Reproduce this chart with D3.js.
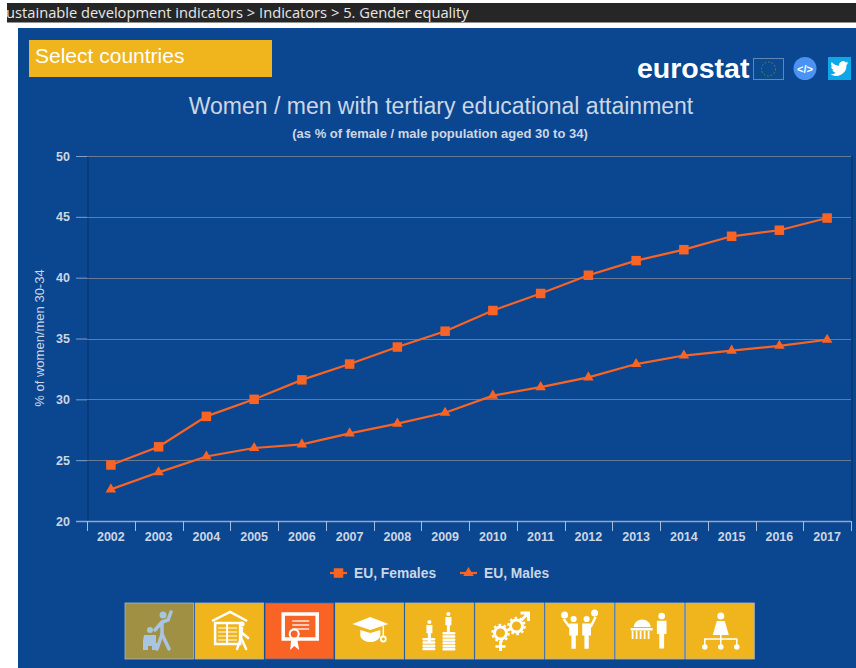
<!DOCTYPE html>
<html>
<head>
<meta charset="utf-8">
<script src="https://d3js.org/d3.v7.min.js"></script>
<style>
  html, body { margin: 0; padding: 0; background: #fff; }
  svg { display: block; }
  text { font-family: "Liberation Sans", Arial, sans-serif; }
</style>
</head>
<body>
<div id="area"></div>
<script>
var years = ["2002","2003","2004","2005","2006","2007","2008","2009","2010","2011","2012","2013","2014","2015","2016","2017"];
var females = [24.6,26.1,28.6,30.0,31.6,32.9,34.3,35.6,37.3,38.7,40.2,41.4,42.3,43.4,43.9,44.9];
var males = [22.6,24.0,25.3,26.0,26.3,27.2,28.0,28.9,30.3,31.0,31.8,32.9,33.6,34.0,34.4,34.9];
var yTicks = [20,25,30,35,40,45,50];
var seriesNames = ["EU, Females","EU, Males"];
var iconNames = ["care","house","diploma","cap","coins","gears","parents","parliament","manager"];

var blue = "#0b4690";
var orange = "#f96424";
var yellow = "#f0b41c";
var light = "#ccd6e4";

var svg = d3.select("#area").append("svg")
            .attr("width", 856)
            .attr("height", 668);

// breadcrumb bar
svg.append("clipPath").attr("id", "crumb")
   .append("rect").attr("x", 7).attr("y", 3).attr("width", 849).attr("height", 20);
svg.append("rect").attr("x", 7).attr("y", 3).attr("width", 849).attr("height", 19.500).attr("fill", "#262626");
svg.append("text")
   .attr("clip-path", "url(#crumb)")
   .attr("x", -2).attr("y", 18)
   .attr("fill", "#e6e6e6")
   .style("font-family", "'Open Sans'")
   .style("font-size", "14.7px")
   .text("Sustainable development indicators > Indicators > 5. Gender equality");

// panel
svg.append("rect").attr("x", 18).attr("y", 28).attr("width", 838).attr("height", 640).attr("fill", blue);
svg.append("rect").attr("x", 29).attr("y", 40).attr("width", 243).attr("height", 37).attr("fill", yellow);
svg.append("text").attr("x", 35).attr("y", 63).attr("fill", "#fff")
   .style("font-size", "21px").text("Select countries");

// eurostat logo
svg.append("text").attr("x", 637).attr("y", 78).attr("fill", "#fff")
   .style("font-size", "28.5px").style("font-weight", "bold").text("eurostat");
svg.append("rect").attr("x", 753.5).attr("y", 58.5).attr("width", 30).attr("height", 21)
   .attr("fill", "#0b4a8e").attr("stroke", "#5f86b5");
svg.append("circle").attr("cx", 768.5).attr("cy", 69).attr("r", 7)
   .attr("fill", "none").attr("stroke", "#6f8a4a").attr("stroke-dasharray", "1.5 2.1");
svg.append("circle").attr("cx", 805).attr("cy", 68.5).attr("r", 11.5).attr("fill", "#4b93f2");
svg.append("text").attr("x", 805).attr("y", 72.5).attr("text-anchor", "middle").attr("fill", "#fff")
   .style("font-size", "11px").style("font-weight", "bold").text("</>");
svg.append("rect").attr("x", 828).attr("y", 57).attr("width", 23).attr("height", 23).attr("fill", "#0fa8e6");
svg.append("path")
   .attr("transform", "translate(830,59) scale(0.8)")
   .attr("fill", "#fff")
   .attr("d", "M23 5c-.8.4-1.7.6-2.6.7 1-.6 1.700-1.500 2-2.500-.9.5-1.900.9-2.900 1.100a4.600 4.600 0 0 0-7.900 4.200C7.800 8.300 4.400 6.500 2.100 3.700a4.600 4.600 0 0 0 1.400 6.100c-.7 0-1.400-.2-2.100-.6 0 2.300 1.600 4.200 3.700 4.600-.7.200-1.400.2-2.100.1.600 1.900 2.300 3.200 4.300 3.200A9.300 9.300 0 0 1 .6 19a13 13 0 0 0 20-11.500c.9-.6 1.700-1.500 2.400-2.500z");

// titles
svg.append("text").attr("x", 441).attr("y", 114).attr("text-anchor", "middle").attr("fill", light)
   .style("font-size", "23px").text("Women / men with tertiary educational attainment");
svg.append("text").attr("x", 440).attr("y", 138).attr("text-anchor", "middle").attr("fill", light)
   .style("font-size", "13px").style("font-weight", "bold").text("(as % of female / male population aged 30 to 34)");

// chart
var left = 87, right = 851, top_ = 156, bottom = 521;

var xScale = d3.scaleBand().domain(years).range([left, right]);
var yScale = d3.scaleLinear().domain([20, 50]).range([bottom, top_]);

// plot side shadows
[left + 1, right + 1].forEach(function(x) {
  svg.append("line").attr("x1", x).attr("x2", x).attr("y1", top_).attr("y2", bottom)
     .attr("stroke", "#0a3a78").attr("stroke-width", 2);
});

// grid
svg.append("g").selectAll("line")
   .data(yTicks.slice(1))
   .enter().append("line")
   .attr("x1", left).attr("x2", right)
   .attr("y1", function(d) { return Math.round(yScale(d)) + 0.5; })
   .attr("y2", function(d) { return Math.round(yScale(d)) + 0.5; })
   .attr("stroke", "#667a94");

var yAxis = d3.axisLeft(yScale).tickValues(yTicks).tickSize(11).tickPadding(6);
var gy = svg.append("g").attr("class", "y_axis")
            .attr("transform", "translate(" + left + ",0)")
            .call(yAxis);
gy.select(".domain").remove();
gy.selectAll("line").attr("stroke", "#7f9fcb");
gy.selectAll("text").attr("fill", light)
  .style("font-size", "12.5px").style("font-weight", "bold");

var xAxis = d3.axisBottom(xScale).tickSize(0).tickPadding(11);
var gx = svg.append("g").attr("class", "x_axis")
            .attr("transform", "translate(0," + bottom + ")")
            .call(xAxis);
gx.select(".domain").remove();
gx.selectAll("text").attr("fill", light)
  .style("font-size", "12.5px").style("font-weight", "bold");
gx.append("line").attr("x1", left - 11).attr("x2", right).attr("y1", 0.5).attr("y2", 0.5).attr("stroke", "#8fa8cc").attr("stroke-width", 1.5);
gx.selectAll(".edge")
  .data(d3.range(years.length + 1))
  .enter().append("line")
  .attr("class", "edge")
  .attr("x1", function(d) { return Math.round(left + d * xScale.step()) + 0.5; })
  .attr("x2", function(d) { return Math.round(left + d * xScale.step()) + 0.5; })
  .attr("y1", 0).attr("y2", 10)
  .attr("stroke", "#a9bdd9");

svg.append("text")
   .attr("transform", "translate(44,338) rotate(-90)")
   .attr("text-anchor", "middle").attr("fill", light)
   .style("font-size", "13px")
   .text("% of women/men 30-34");

// series
var line = d3.line()
             .x(function(d, i) { return xScale(years[i]) + xScale.bandwidth() / 2; })
             .y(function(d) { return yScale(d); });

var square = d3.symbol().type(d3.symbolSquare).size(90);
var triangle = d3.symbol().type(d3.symbolTriangle).size(48);

[[females, square], [males, triangle]].forEach(function(s) {
  svg.append("path").datum(s[0])
     .attr("d", line)
     .attr("fill", "none")
     .attr("stroke", orange)
     .attr("stroke-width", 2.2);
  svg.append("g").selectAll("path")
     .data(s[0])
     .enter().append("path")
     .attr("d", s[1])
     .attr("fill", orange)
     .attr("transform", function(d, i) {
       return "translate(" + (xScale(years[i]) + xScale.bandwidth() / 2) + "," + yScale(d) + ")";
     });
});

// legend
var legendX = [330, 460];
seriesNames.forEach(function(name, i) {
  var g = svg.append("g").attr("transform", "translate(" + legendX[i] + ",573)");
  g.append("line").attr("x1", 0).attr("x2", 17).attr("stroke", orange).attr("stroke-width", 2.2);
  g.append("path").attr("d", i == 0 ? square : triangle).attr("transform", "translate(8.5,0)").attr("fill", orange);
  g.append("text").attr("x", 24).attr("y", 5).attr("fill", light)
   .style("font-size", "13.8px").style("font-weight", "bold").text(name);
});

// icon strip
var tiles = svg.append("g").selectAll("g")
               .data(iconNames)
               .enter().append("g")
               .attr("transform", function(d, i) { return "translate(" + (125 + i * 70.1) + ",603)"; });

tiles.append("rect")
     .attr("width", 68.5).attr("height", 56)
     .attr("fill", function(d) { return d == "care" ? "#a09044" : d == "diploma" ? orange : yellow; })
     .attr("stroke", function(d) { return d == "diploma" ? "#3f74b5" : "#a9b9c8"; })
     .attr("stroke-width", 0.8);

function person(g, x, y, s, col) {
  g.append("circle").attr("cx", x).attr("cy", y).attr("r", 2.8 * s).attr("fill", col);
  g.append("path").attr("fill", col)
   .attr("d", "M" + (x - 4 * s) + "," + (y + 4 * s) + "h" + (8 * s) + "v" + (11 * s) + "h" + (-2 * s) + "v" + (12 * s) + "h" + (-4 * s) + "v" + (-12 * s) + "h" + (-2 * s) + "z");
}

function coinStack(g, x, y, n) {
  for (var i = 0; i < n; i++) {
    g.append("rect").attr("x", x).attr("y", y + i * 3.2).attr("width", 13).attr("height", 2.6).attr("rx", 1).attr("fill", "#fff");
  }
}

function gear(g, cx, cy, r) {
  g.append("circle").attr("cx", cx).attr("cy", cy).attr("r", r)
   .attr("fill", "none").attr("stroke", "#fff").attr("stroke-width", 3);
  g.append("circle").attr("cx", cx).attr("cy", cy).attr("r", r + 2.2)
   .attr("fill", "none").attr("stroke", "#fff").attr("stroke-width", 2.2).attr("stroke-dasharray", "2.6 2.6");
}

tiles.each(function(d) {
  var g = d3.select(this);
  var w = "#fff";
  if (d == "care") {
    var c = "#a9c4e0";
    g.append("circle").attr("cx", 38).attr("cy", 12).attr("r", 3.5).attr("fill", c);
    g.append("path").attr("fill", "none").attr("stroke", c).attr("stroke-width", 3.5).attr("stroke-linecap", "round")
     .attr("d", "M46,9L43,17L37,19L30,27M37,19L37,31L32,46M37,31L44,46");
    g.append("circle").attr("cx", 25).attr("cy", 27).attr("r", 3).attr("fill", c);
    g.append("path").attr("fill", c).attr("d", "M19,32h12v8h2v7h-6v-4h-4v4h-5v-9z");
  }
  if (d == "house") {
    g.append("path").attr("fill", "none").attr("stroke", w).attr("stroke-width", 2.5)
     .attr("d", "M17,18L35,9L52,18");
    g.append("rect").attr("x", 20).attr("y", 20).attr("width", 25).attr("height", 21).attr("fill", "none").attr("stroke", w).attr("stroke-width", 2.5);
    g.append("line").attr("x1", 32).attr("x2", 32).attr("y1", 20).attr("y2", 41).attr("stroke", w).attr("stroke-width", 2);
    g.selectAll(".page").data([25, 29, 33, 37]).enter().append("line")
     .attr("x1", 23).attr("x2", 42).attr("y1", function(v) { return v; }).attr("y2", function(v) { return v; })
     .attr("stroke", w).attr("stroke-width", 1);
    g.append("path").attr("fill", "none").attr("stroke", w).attr("stroke-width", 2.5).attr("stroke-linecap", "round")
     .attr("d", "M47,25L46,35L42,46M46,35L51,46M46,29L53,35");
    g.append("circle").attr("cx", 47).attr("cy", 21).attr("r", 2.5).attr("fill", w);
  }
  if (d == "diploma") {
    g.append("rect").attr("x", 18).attr("y", 11).attr("width", 34).attr("height", 25).attr("fill", "none").attr("stroke", w).attr("stroke-width", 3.5);
    g.selectAll(".txt").data([18, 22, 26]).enter().append("line")
     .attr("x1", 27).attr("x2", 44).attr("y1", function(v) { return v; }).attr("y2", function(v) { return v; })
     .attr("stroke", w).attr("stroke-width", 1.3);
    g.append("circle").attr("cx", 29).attr("cy", 31).attr("r", 4.5).attr("fill", orange).attr("stroke", w).attr("stroke-width", 2);
    g.append("path").attr("fill", w).attr("d", "M26,36h6l2,11l-5,-4l-4,4z");
  }
  if (d == "cap") {
    g.append("path").attr("fill", w).attr("d", "M17,21L35,14L53,21L35,27z");
    g.append("path").attr("fill", w).attr("d", "M25,27L35,30L45,27V33C42,41 28,41 25,33z");
    g.append("line").attr("x1", 48).attr("x2", 48).attr("y1", 23).attr("y2", 33).attr("stroke", w).attr("stroke-width", 1.5);
    g.append("circle").attr("cx", 48).attr("cy", 36).attr("r", 2.5).attr("fill", "none").attr("stroke", w).attr("stroke-width", 1.8);
  }
  if (d == "coins") {
    person(g, 24, 19, 0.75, w);
    coinStack(g, 17, 35, 4);
    person(g, 43, 11, 0.75, w);
    coinStack(g, 37, 29, 6);
  }
  if (d == "gears") {
    gear(g, 25, 30, 6);
    g.append("line").attr("x1", 25).attr("x2", 25).attr("y1", 38).attr("y2", 48).attr("stroke", w).attr("stroke-width", 3);
    g.append("line").attr("x1", 20).attr("x2", 30).attr("y1", 43.500).attr("y2", 43.500).attr("stroke", w).attr("stroke-width", 2.5);
    gear(g, 41, 23, 6);
    g.append("path").attr("fill", "none").attr("stroke", w).attr("stroke-width", 3).attr("d", "M46,17L52,11M45,10H53V18");
  }
  if (d == "parents") {
    person(g, 28, 16, 1.1, w);
    person(g, 41, 16, 1.1, w);
    g.append("path").attr("fill", "none").attr("stroke", w).attr("stroke-width", 2.5).attr("d", "M24,24L18,16M45,24L50,14");
    g.append("circle").attr("cx", 19).attr("cy", 12).attr("r", 3.500).attr("fill", w);
    g.append("circle").attr("cx", 49).attr("cy", 10).attr("r", 3.500).attr("fill", w);
  }
  if (d == "parliament") {
    g.append("path").attr("fill", w).attr("d", "M18,24a8,7 0 0 1 17,0z");
    g.append("rect").attr("x", 15).attr("y", 25).attr("width", 22).attr("height", 2.5).attr("fill", w);
    g.selectAll(".col").data([16, 20, 24, 28, 32]).enter().append("rect")
     .attr("x", function(v) { return v; }).attr("y", 28).attr("width", 1.8).attr("height", 8).attr("fill", w);
    person(g, 46, 13, 1.2, w);
  }
  if (d == "manager") {
    g.append("circle").attr("cx", 35).attr("cy", 13).attr("r", 3.500).attr("fill", w);
    g.append("path").attr("fill", w).attr("d", "M31,18h8l4,14h-16z");
    g.append("path").attr("fill", "none").attr("stroke", w).attr("stroke-width", 1.5).attr("d", "M19,42V36H51V42M35,32V42");
    [19, 35, 51].forEach(function(x) {
      g.append("circle").attr("cx", x).attr("cy", 44).attr("r", 2.8).attr("fill", w);
    });
  }
});
</script>
</body>
</html>
